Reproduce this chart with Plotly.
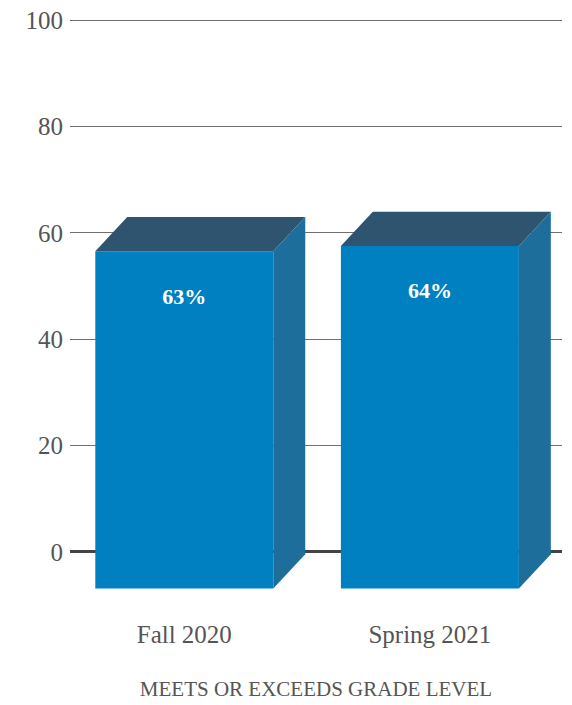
import plotly.graph_objects as go

categories = ["Fall 2020", "Spring 2021"]
values = [63, 64]
bar_labels = ["63%", "64%"]
y_ticks = [0, 20, 40, 60, 80, 100]
axis_title = "MEETS OR EXCEEDS GRADE LEVEL"

FRONT = "#0080C1"
TOP = "#2E5470"
SIDE = "#1D6E9A"
TEXT = "#555555"
FONT = "Liberation Serif"

HALF_W = 0.3624
DX = 0.13
DY = 6.45
BASE = -6.9

fig = go.Figure()
for i, (cat, v, lab) in enumerate(zip(categories, values, bar_labels)):
    xl, xr = i - HALF_W, i + HALF_W
    top = v - DY
    common = dict(mode="lines", fill="toself", line=dict(width=0), hoverinfo="skip", showlegend=False)
    fig.add_trace(go.Scatter(x=[xl, xr, xr, xl, xl], y=[BASE, BASE, top, top, BASE], fillcolor=FRONT, **common))
    fig.add_trace(go.Scatter(x=[xl, xr, xr + DX, xl + DX, xl], y=[top, top, v, v, top], fillcolor=TOP, **common))
    fig.add_trace(go.Scatter(x=[xr, xr + DX, xr + DX, xr, xr], y=[BASE, BASE + DY, v, top, BASE], fillcolor=SIDE, **common))

fig.add_trace(go.Scatter(
    x=list(range(len(categories))), y=[v - 15.3 for v in values], mode="text",
    text=[f"<b>{t}</b>" for t in bar_labels],
    textfont=dict(family=FONT, size=22, color="white"),
    hoverinfo="skip", showlegend=False))

fig.update_layout(
    width=572, height=705,
    margin=dict(l=62, r=18, t=11, b=124),
    paper_bgcolor="white", plot_bgcolor="white",
    font=dict(family=FONT, color=TEXT),
    showlegend=False,
    xaxis=dict(
        range=[-0.4654, 1.5379], automargin=False,
        tickvals=list(range(len(categories))), ticktext=categories,
        tickfont=dict(family=FONT, size=25, color=TEXT),
        showgrid=False, zeroline=False, showline=False, ticks="",
        ticklabelstandoff=28,
        title=dict(text=axis_title, font=dict(family=FONT, size=21, color=TEXT), standoff=34),
    ),
    yaxis=dict(
        range=[-7, 100.25], automargin=False,
        tickvals=y_ticks,
        tickfont=dict(family=FONT, size=25, color=TEXT),
        showgrid=True, gridcolor="#707070", gridwidth=1,
        zeroline=True, zerolinecolor="#444444", zerolinewidth=2.5,
        showline=False, ticks="", ticklabelstandoff=6,
        ticklabeloverflow="allow",
    ),
)

fig.write_html("out.html")
